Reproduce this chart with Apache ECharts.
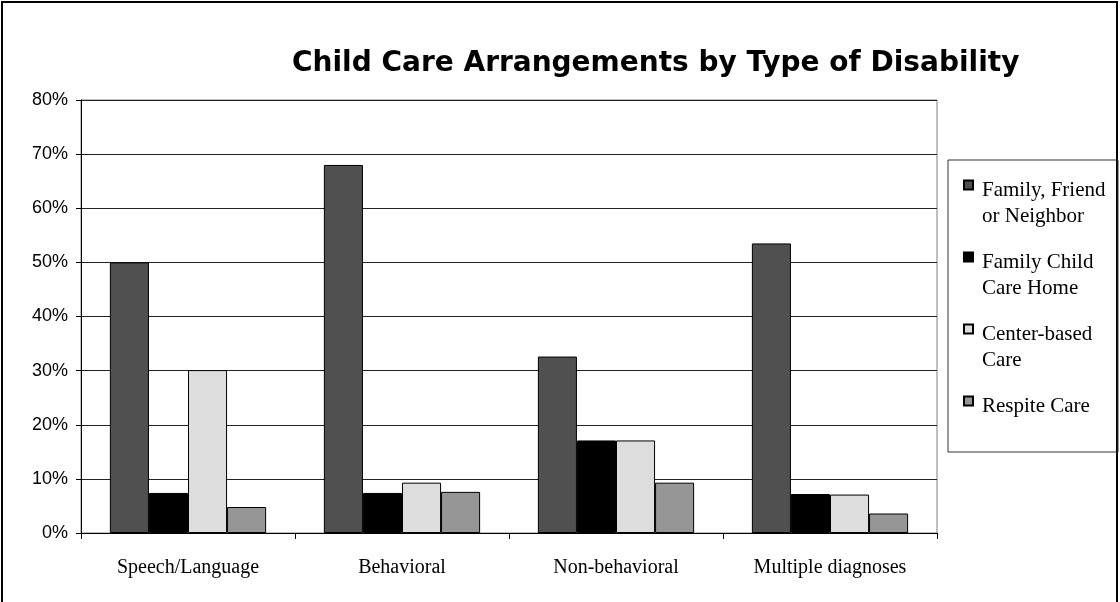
<!DOCTYPE html>
<html>
<head>
<meta charset="utf-8">
<script src="https://cdn.jsdelivr.net/npm/echarts@6/dist/echarts.min.js"></script>
<style>
  html, body { margin: 0; padding: 0; background: #fff; }
  #chart { width: 1120px; height: 602px; }
</style>
</head>
<body>
<div id="chart"></div>
<script>
// data
var categories = ['Speech/Language', 'Behavioral', 'Non-behavioral', 'Multiple diagnoses'];
var seriesNames = ['Family, Friend or Neighbor', 'Family Child Care Home', 'Center-based Care', 'Respite Care'];
var legendLabels = ['Family, Friend\nor Neighbor', 'Family Child\nCare Home', 'Center-based\nCare', 'Respite Care\n '];
var familyFriend = [50, 68, 32.6, 53.5];
var familyChildCare = [7.4, 7.4, 17.1, 7.2];
var centerBased = [30.1, 9.3, 17.1, 7.1];
var respite = [4.8, 7.6, 9.3, 3.6];
var yTicks = [0, 10, 20, 30, 40, 50, 60, 70, 80];

var colors = ['#505050', '#000000', '#dddddd', '#969696'];
var values = [familyFriend, familyChildCare, centerBased, respite];

var chart = echarts.init(document.getElementById('chart'));

var series = seriesNames.map(function (name, i) {
  return {
    name: name,
    type: 'bar',
    data: values[i],
    barGap: '0%',
    barCategoryGap: '27%',
    itemStyle: { color: colors[i], borderColor: '#000', borderWidth: 1 }
  };
});

var option = {
  backgroundColor: '#fff',
  animation: false,
  title: {
    text: 'Child Care Arrangements by Type of Disability',
    left: 292,
    top: 50,
    padding: 0,
    textStyle: {
      fontFamily: 'DejaVu Sans',
      fontWeight: 'bold',
      fontSize: 28,
      color: '#000'
    }
  },
  legend: {
    orient: 'vertical',
    left: 948,
    top: 160,
    padding: [17, 2, 7, 15],
    itemGap: 20,
    itemWidth: 13,
    itemHeight: 45,
    icon: 'path://M0,0H9V9H0Z M13,45',
    borderColor: '#333',
    borderWidth: 1,
    formatter: function (name) {
      return legendLabels[seriesNames.indexOf(name)];
    },
    textStyle: {
      fontFamily: 'Liberation Serif',
      fontSize: 21,
      lineHeight: 26,
      color: '#000',
      width: 134
    },
    data: seriesNames
  },
  grid: {
    left: 81,
    right: 183,
    top: 100,
    bottom: 69,
    show: true,
    borderColor: '#808080',
    borderWidth: 1
  },
  xAxis: {
    type: 'category',
    data: categories,
    axisLine: { lineStyle: { color: '#000' } },
    axisTick: { show: true, length: 6, lineStyle: { color: '#000' } },
    axisLabel: {
      margin: 25,
      fontFamily: 'Liberation Serif',
      fontSize: 20,
      color: '#000'
    }
  },
  yAxis: {
    type: 'value',
    min: yTicks[0],
    max: yTicks[yTicks.length - 1],
    interval: 10,
    axisLine: { show: true, lineStyle: { color: '#000' } },
    axisTick: { show: true, length: 5, lineStyle: { color: '#000' } },
    splitLine: { lineStyle: { color: '#222' } },
    axisLabel: {
      margin: 13,
      fontFamily: 'Liberation Sans',
      fontSize: 18,
      color: '#000',
      formatter: '{value}%'
    }
  },
  graphic: [{
    type: 'rect',
    shape: { x: 2, y: 2, width: 1115, height: 640 },
    style: { fill: 'none', stroke: '#000', lineWidth: 2 },
    silent: true
  }],
  series: series
};

chart.setOption(option);
</script>
</body>
</html>
